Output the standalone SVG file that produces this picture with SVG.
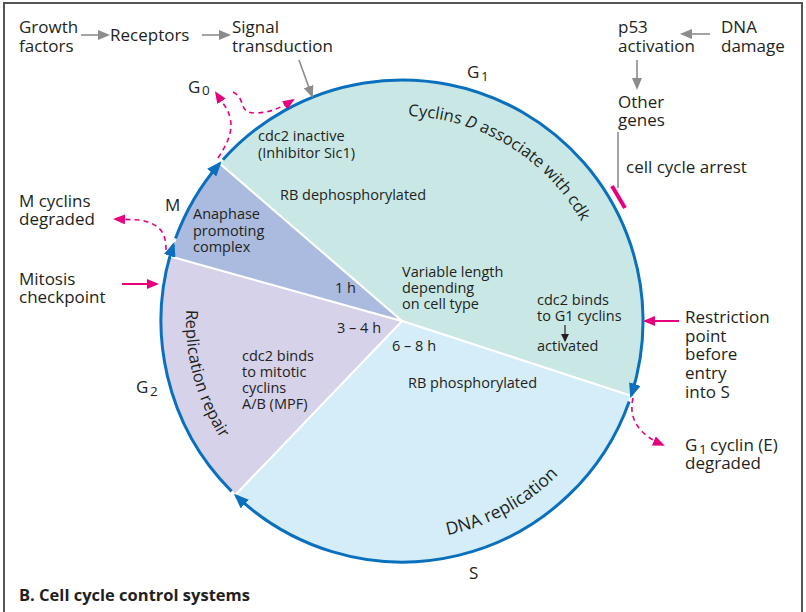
<svg xmlns="http://www.w3.org/2000/svg" width="806" height="612" viewBox="0 0 806 612">
<style>
text{font-family:"Open Sans","Noto Sans","Liberation Sans",sans-serif;fill:#231f20;}
.o{font-size:17px;}
.i{font-size:14.5px;}
.sub{font-size:13.5px;}
.t{font-size:16.5px;font-weight:bold;}
.arc{fill:none;stroke:#0a70be;stroke-width:3;}
.pd{fill:none;stroke:#e6007e;stroke-width:1.6;stroke-dasharray:5 4;}
.ps{fill:none;stroke:#e6007e;stroke-width:2;}
.g{fill:none;stroke:#8c8c8c;stroke-width:1.6;}
.wedge{stroke:#fff;stroke-width:2;}
</style>
<defs>
<marker id="mb" markerUnits="userSpaceOnUse" markerWidth="16" markerHeight="12" refX="12" refY="6" orient="auto"><path d="M0,0 L15,6 L0,12 Z" fill="#0a70be"/></marker>
<marker id="mp" markerUnits="userSpaceOnUse" markerWidth="12" markerHeight="10" refX="10" refY="5" orient="auto"><path d="M0,0 L12,5 L0,10 Z" fill="#e6007e"/></marker>
<marker id="mg" markerUnits="userSpaceOnUse" markerWidth="12" markerHeight="10" refX="10" refY="5" orient="auto"><path d="M0,0 L12,5 L0,10 Z" fill="#8c8c8c"/></marker>
<marker id="mk" markerUnits="userSpaceOnUse" markerWidth="8" markerHeight="8" refX="7" refY="4" orient="auto"><path d="M0,0 L8,4 L0,8 Z" fill="#231f20"/></marker>
<path id="pCyc" d="M408.1,116.1 A205,205 0 0 1 600,268"/>
<path id="pRep" d="M186.3,309.7 A216,216 0 0 0 263.2,486.5"/>
<path id="pDna" d="M447.5,535.2 A219,219 0 0 0 591.7,430.5"/>
</defs>
<rect width="806" height="612" fill="#fff"/>
<g id="frame" fill="none" stroke="#555" stroke-width="2">
<path d="M4,612 V3 H802 V612"/>
</g>
<g id="phases">
<path id="wedge-G1" class="wedge" fill="#c9e8e5" d="M402,321 L219.6,163.5 A241,241 0 0 1 631.1,395.9 Z"/>
<path id="wedge-S" class="wedge" fill="#d4edf9" d="M402,321 L631.1,395.9 A241,241 0 0 1 235.2,495 Z"/>
<path id="wedge-G2" class="wedge" fill="#d5d2ea" d="M402,321 L235.2,495 A241,241 0 0 1 169.9,256.2 Z"/>
<path id="wedge-M" class="wedge" fill="#aabbdf" d="M402,321 L169.9,256.2 A241,241 0 0 1 219.6,163.5 Z"/>
</g>
<g id="connectors">
<path class="arc" marker-end="url(#mb)" d="M222.9,159.7 A241,241 0 0 1 631.2,395.5"/>
<path class="arc" marker-end="url(#mb)" d="M629.2,401.4 A241,241 0 0 1 236.1,495.8"/>
<path class="arc" marker-end="url(#mb)" d="M231.6,491.4 A241,241 0 0 1 173.5,244.5"/>
<path class="arc" marker-end="url(#mb)" d="M175.5,238.6 A241,241 0 0 1 219.6,163.5"/>
<path class="g" marker-end="url(#mg)" d="M81,35 H108"/>
<path class="g" marker-end="url(#mg)" d="M202,35 H229"/>
<path class="g" marker-end="url(#mg)" d="M299,60 L312,96"/>
<path class="g" marker-end="url(#mg)" d="M710,34 H682"/>
<path class="g" marker-end="url(#mg)" d="M637,60 V88"/>
<path class="g" d="M618,132 V188"/>
<path d="M612,186 L625,208" stroke="#e6007e" stroke-width="4" fill="none"/>
<path class="ps" marker-end="url(#mp)" d="M122,284 H157"/>
<path class="ps" marker-end="url(#mp)" d="M679,321 H645"/>
<path class="pd" marker-end="url(#mp)" d="M218,158 C230,140 238,122 222,102 L216,93"/>
<path class="pd" marker-end="url(#mp)" d="M233,92 C248,100 236,114 258,113 C272,112 282,107 293,100"/>
<path class="pd" marker-end="url(#mp)" d="M166,250 C166,232 160,224 140,220 L115,219"/>
<path class="pd" marker-end="url(#mp)" d="M633,398 C628,420 640,435 663,445"/>
<path fill="none" stroke="#231f20" stroke-width="1.2" marker-end="url(#mk)" d="M565,325 V341"/>
</g>
<g id="growth-factors"><text class="o" x="19" y="33">Growth</text><text class="o" x="19" y="52">factors</text></g>
<g id="receptors"><text class="o" x="110" y="41">Receptors</text></g>
<g id="signal-transduction"><text class="o" x="232" y="33">Signal</text><text class="o" x="232" y="52">transduction</text></g>
<g id="p53"><text class="o" x="618" y="33">p53</text><text class="o" x="618" y="52">activation</text></g>
<g id="dna-damage"><text class="o" x="721" y="33">DNA</text><text class="o" x="721" y="52">damage</text></g>
<g id="other-genes"><text class="o" x="618" y="108">Other</text><text class="o" x="618" y="126">genes</text></g>
<g id="cell-cycle-arrest"><text class="o" x="626" y="173">cell cycle arrest</text></g>
<g id="label-G1"><text class="o" x="467" y="78">G</text><text class="sub" x="481" y="80.5">1</text></g>
<g id="label-G0"><text class="o" x="188" y="93">G</text><text class="sub" x="202" y="95">0</text></g>
<g id="label-M"><text class="o" x="165" y="211">M</text></g>
<g id="label-G2"><text class="o" x="136" y="393">G</text><text class="sub" x="150" y="395.5">2</text></g>
<g id="label-S"><text class="o" x="469" y="579">S</text></g>
<g id="m-cyclins"><text class="o" x="19" y="207">M cyclins</text><text class="o" x="19" y="225">degraded</text></g>
<g id="mitosis-checkpoint"><text class="o" x="19" y="285">Mitosis</text><text class="o" x="19" y="303">checkpoint</text></g>
<g id="restriction-point"><text class="o" x="685" y="323">Restriction</text><text class="o" x="685" y="342">point</text><text class="o" x="685" y="360">before</text><text class="o" x="685" y="379">entry</text><text class="o" x="685" y="398">into S</text></g>
<g id="g1-cyclin-degraded"><text class="o" x="685" y="451">G</text><text class="sub" x="699" y="453.5">1</text><text class="o" x="710" y="451">cyclin (E)</text><text class="o" x="685" y="469">degraded</text></g>
<g id="cdc2-inactive"><text class="i" x="258" y="141">cdc2 inactive</text><text class="i" x="258" y="158">(Inhibitor Sic1)</text></g>
<g id="rb-dephos"><text class="i" x="280" y="200">RB dephosphorylated</text></g>
<g id="apc"><text class="i" x="193" y="219">Anaphase</text><text class="i" x="193" y="236">promoting</text><text class="i" x="193" y="252">complex</text></g>
<g id="dur-1h"><text class="i" x="335" y="293">1 h</text></g>
<g id="dur-3-4h"><text class="i" x="337" y="333">3 – 4 h</text></g>
<g id="dur-6-8h"><text class="i" x="392" y="351">6 – 8 h</text></g>
<g id="variable-length"><text class="i" x="402" y="277">Variable length</text><text class="i" x="402" y="293">depending</text><text class="i" x="402" y="309">on cell type</text></g>
<g id="cdc2-g1"><text class="i" x="537" y="305">cdc2 binds</text><text class="i" x="537" y="321">to G1 cyclins</text><text class="i" x="537" y="351">activated</text></g>
<g id="rb-phos"><text class="i" x="408" y="388">RB phosphorylated</text></g>
<g id="cdc2-mitotic"><text class="i" x="242" y="361">cdc2 binds</text><text class="i" x="242" y="377">to mitotic</text><text class="i" x="242" y="393">cyclins</text><text class="i" x="242" y="409">A/B (MPF)</text></g>
<g id="cyclins-d"><text style="font-size:16.5px"><textPath href="#pCyc">Cyclins <tspan font-style="italic">D</tspan> associate with cdk</textPath></text></g>
<g id="replication-repair"><text style="font-size:16.5px"><textPath href="#pRep">Replication repair</textPath></text></g>
<g id="dna-replication"><text style="font-size:17.5px"><textPath href="#pDna">DNA replication</textPath></text></g>
<g id="title"><text class="t" x="19" y="601">B. Cell cycle control systems</text></g>
</svg>
